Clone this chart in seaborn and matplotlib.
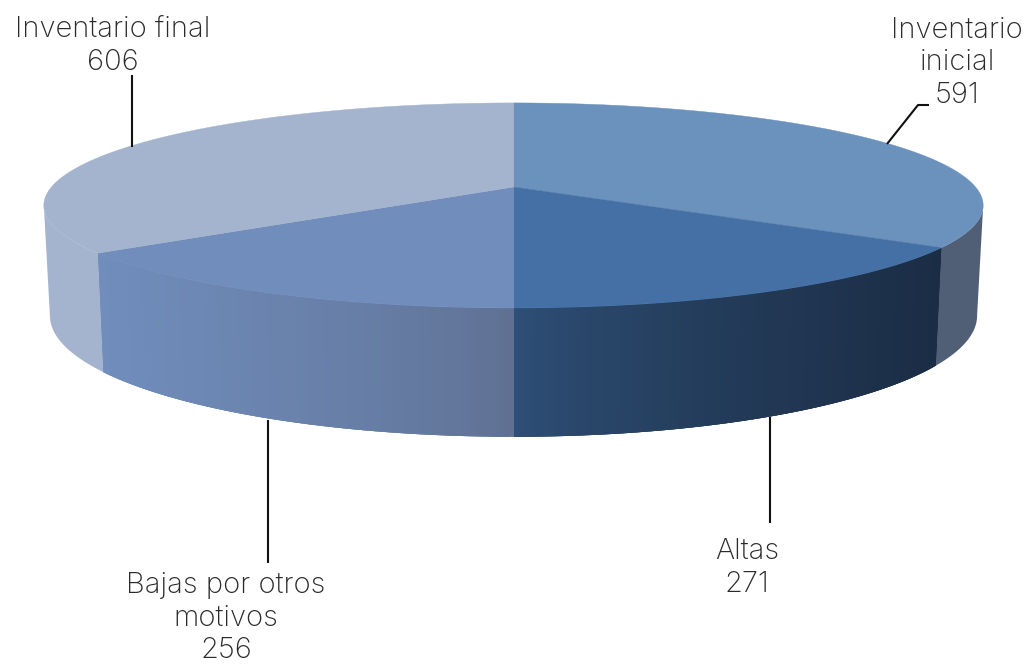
import numpy as np
import matplotlib
matplotlib.use("Agg")
import matplotlib.pyplot as plt
import seaborn as sns

categories = ["Inventario\ninicial", "Altas", "Bajas por otros\nmotivos", "Inventario final"]
values = [591, 271, 256, 606]
top_colors = ["#6B91BD", "#4470A5", "#708DBC", "#A5B4CE"]
wall_from = ["#505F75", "#2F5078", "#5F7092", "#A5B4CE"]
wall_to = ["#505F75", "#1B2D45", "#708DBC", "#A5B4CE"]
label_xy = [(957, 63), (747, 568), (226, 618), (113, 46)]
leaders = [[(929, 105), (918, 105), (887, 144)],
           [(770, 417), (770, 523)],
           [(268, 420), (268, 563)],
           [(132, 75), (132, 147)]]

sns.set_theme(style="white")
plt.rcParams["font.family"] = ["Inter", "DejaVu Sans"]

CX, CY = 513.5, 187.0
A, B, K = 462.0, 99.2, 0.18
RIM_S, RIM_Y0, RIM_T = 0.987, 294.0, 1.18
# the wall is only visible on the front arc of the perspective ellipse
VIS0 = np.arccos(-K)
VIS1 = 2 * np.pi - VIS0


def project(theta):
    """Clockwise angle from twelve o'clock to offsets from the pie centre."""
    u, v = np.sin(theta), -np.cos(theta)
    d = 1 - K * v
    return A * u / d, B * v / d


fig, ax = plt.subplots(figsize=(10.27, 6.65), dpi=100)
fig.subplots_adjust(0, 0, 1, 1)
ax.set_xlim(0, 1027)
ax.set_ylim(665, 0)
ax.axis("off")

edges = 2 * np.pi * np.concatenate([[0], np.cumsum(values)]) / np.sum(values)

for i in range(len(values)):
    a0, a1 = max(edges[i], VIS0), min(edges[i + 1], VIS1)
    n = 120
    th = np.linspace(a0, a1, n + 1)
    X, Y = project(th)
    tx, ty = CX + X, CY + Y
    bx, by = CX + RIM_S * X, RIM_Y0 + RIM_T * Y
    # one solid wall underneath, so the shading strips leave no seams
    ax.fill(np.r_[tx, bx[::-1]], np.r_[ty, by[::-1]], color=wall_to[i], lw=0, zorder=1)
    if wall_from[i] == wall_to[i]:
        continue
    # shade by horizontal distance from the centre of the pie
    order = (np.abs(X) / max(np.abs(X).max(), 1)) ** 0.75
    pal = sns.blend_palette([wall_from[i], wall_to[i]], 101)
    for j in range(n):
        k = min(j + 2, n)
        c = pal[int(round(100 * order[j]))]
        ax.fill([tx[j], tx[j + 1], tx[k], bx[k], bx[j + 1], bx[j]],
                [ty[j], ty[j + 1], ty[k], by[k], by[j + 1], by[j]],
                color=c, lw=0, zorder=1)

for i in range(len(values)):
    th = np.linspace(edges[i], edges[i + 1], 200)
    X, Y = project(th)
    ax.fill(np.r_[CX, CX + X], np.r_[CY, CY + Y], color=top_colors[i], lw=0.3, zorder=2)

for pts in leaders:
    xs, ys = zip(*pts)
    ax.plot(xs, ys, color="#111111", lw=1.5, zorder=3, solid_capstyle="butt")

for name, val, (x, y) in zip(categories, values, label_xy):
    ax.text(x, y, f"{name}\n{val}", ha="center", va="center", fontsize=21,
            color="#2a2a2a", linespacing=1.28, fontweight="light")

fig.savefig("out.png", dpi=100, facecolor="white")
